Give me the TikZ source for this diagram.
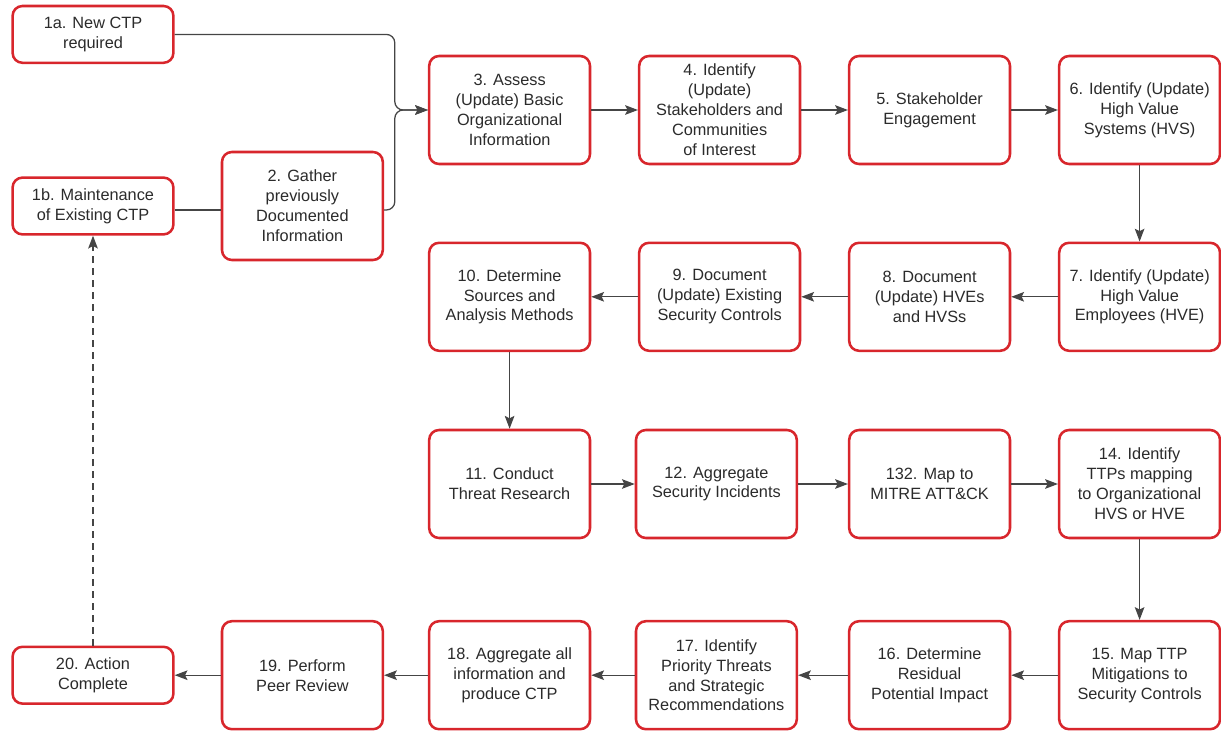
\documentclass[tikz,border=0pt]{standalone}
\usepackage{fontspec}
\setmainfont{Liberation Sans}
\usepackage{xcolor}
\usepackage{tikz}
\usetikzlibrary{arrows.meta,positioning,calc}
\definecolor{boxred}{HTML}{D8262C}
\definecolor{linegray}{HTML}{454545}
\definecolor{txtgray}{HTML}{2B2B2B}

\begin{document}
\begin{tikzpicture}[
  box/.style={draw=boxred, line width=1.8pt, rounded corners=7pt, fill=white, align=center,
              text=txtgray, font=\fontsize{11.6}{14.2}\selectfont,
              minimum width=4.02cm, minimum height=2.7cm, inner sep=2pt},
  small/.style={box, minimum height=1.42cm},
  arr/.style={-{Stealth[length=3.2mm, width=2.4mm, inset=0.6mm]}, line width=0.9pt, draw=linegray},
  plain/.style={line width=0.9pt, draw=linegray}
]
\useasboundingbox (0,0) rectangle (30.525,-18.275);
% entry column
\node[small] (new) at (2.325,-0.86) {1a. New CTP\\required};
\node[small] (maint) at (2.325,-5.15) {1b. Maintenance\\of Existing CTP};
\node[box] (gather) at (7.56,-5.15) {2. Gather\\previously\\Documented\\Information};
\node[small] (done) at (2.325,-16.88) {20. Action\\Complete};
% row 1
\node[box] (assess) at (12.74,-2.75) {3. Assess\\(Update) Basic\\Organizational\\Information};
\node[box] (stake) at (17.99,-2.75) {4. Identify\\(Update)\\Stakeholders and\\Communities\\of Interest};
\node[box] (engage) at (23.24,-2.75) {5. Stakeholder\\Engagement};
\node[box] (hvs) at (28.49,-2.75) {6. Identify (Update)\\High Value\\Systems (HVS)};
% row 2
\node[box] (hve) at (28.49,-7.42) {7. Identify (Update)\\High Value\\Employees (HVE)};
\node[box] (dochv) at (23.24,-7.42) {8. Document\\(Update) HVEs\\and HVSs};
\node[box] (docsc) at (17.99,-7.42) {9. Document\\(Update) Existing\\Security Controls};
\node[box] (sources) at (12.74,-7.42) {10. Determine\\Sources and\\Analysis Methods};
% row 3
\node[box] (research) at (12.74,-12.1) {11. Conduct\\Threat Research};
\node[box] (incid) at (17.91,-12.1) {12. Aggregate\\Security Incidents};
\node[box] (mitre) at (23.24,-12.1) {132. Map to\\MITRE ATT\&CK};
\node[box] (ttps) at (28.49,-12.1) {14. Identify\\TTPs mapping\\to Organizational\\HVS or HVE};
% row 4
\node[box] (mitig) at (28.49,-16.88) {15. Map TTP\\Mitigations to\\Security Controls};
\node[box] (resid) at (23.24,-16.88) {16. Determine\\Residual\\Potential Impact};
\node[box] (prio) at (17.91,-16.88) {17. Identify\\Priority Threats\\and Strategic\\Recommendations};
\node[box] (aggr) at (12.74,-16.88) {18. Aggregate all\\information and\\produce CTP};
\node[box] (peer) at (7.56,-16.88) {19. Perform\\Peer Review};
\coordinate (merge) at (9.87,-2.75);

\draw[arr, rounded corners=6pt] (new.east) -| (merge) -- (assess.west);
\draw[arr, rounded corners=6pt] ([yshift=-1mm]gather.east) -| (merge) -- (assess.west);
\draw[plain] ([yshift=-1mm]maint.east) -- ([yshift=-1mm]gather.west);
\draw[arr] (assess) -- (stake);
\draw[arr] (stake) -- (engage);
\draw[arr] (engage) -- (hvs);
\draw[arr] (hvs) -- (hve);
\draw[arr] (hve) -- (dochv);
\draw[arr] (dochv) -- (docsc);
\draw[arr] (docsc) -- (sources);
\draw[arr] (sources) -- (research);
\draw[arr] (research) -- (incid);
\draw[arr] (incid) -- (mitre);
\draw[arr] (mitre) -- (ttps);
\draw[arr] (ttps) -- (mitig);
\draw[arr] (mitig) -- (resid);
\draw[arr] (resid) -- (prio);
\draw[arr] (prio) -- (aggr);
\draw[arr] (aggr) -- (peer);
\draw[arr] (peer) -- (done);
\draw[arr, dash pattern=on 5pt off 3.5pt] (done) -- (maint);
\end{tikzpicture}
\end{document}
